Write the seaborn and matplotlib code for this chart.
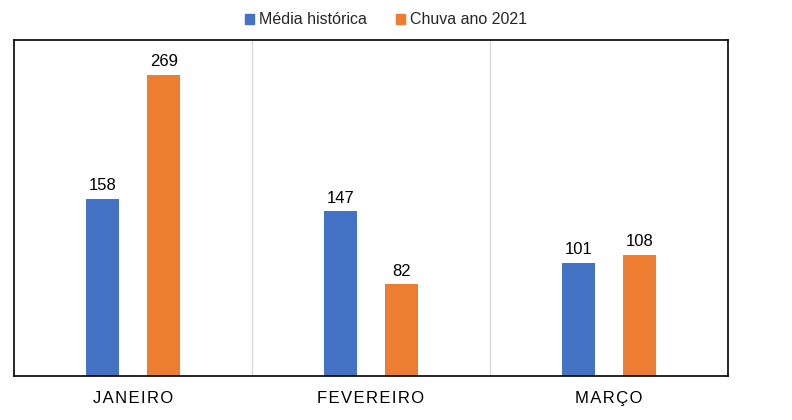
import pandas as pd
import seaborn as sns
import matplotlib.pyplot as plt

meses = ['JANEIRO', 'FEVEREIRO', 'MARÇO']
series = ['Média histórica', 'Chuva ano 2021']
media_historica = [158, 147, 101]
chuva_2021 = [269, 82, 108]
cores = ['#4472C4', '#ED7D31']

df = pd.DataFrame({
    'mes': meses * 2,
    'serie': [series[0]] * 3 + [series[1]] * 3,
    'valor': media_historica + chuva_2021,
})

sns.set_style('white')
plt.rcParams['font.family'] = ['Liberation Sans', 'DejaVu Sans']

fig = plt.figure(figsize=(7.92, 4.2), dpi=100)
ax = fig.add_axes([14 / 792, 44 / 420, 714 / 792, 336 / 420])

sns.barplot(data=df, x='mes', y='valor', hue='serie', palette=cores,
            width=0.516, gap=0.46, ax=ax, legend=False, saturation=1,
            linewidth=0)

for cont in ax.containers:
    ax.bar_label(cont, fontsize=12, padding=4, color='#000000')

ax.set_ylim(0, 300)
ax.set_xlim(-0.5, 2.5)
ax.set_yticks([])
ax.set_xlabel('')
ax.set_ylabel('')
# letras espaçadas como no original
rotulos = ['\u200a'.join(m) for m in meses]
ax.set_xticks(range(3))
ax.set_xticklabels(rotulos)
ax.tick_params(axis='x', length=0, pad=11, labelsize=12, colors='#000000')

for xg in [0.5, 1.5]:
    ax.axvline(xg, color='#D9D9D9', lw=1, zorder=0)

for s in ax.spines.values():
    s.set_visible(True)
    s.set_color('black')
    s.set_linewidth(1.2)

handles = [plt.Rectangle((0, 0), 1, 1, color=c) for c in cores]
fig.legend(handles, series, loc='center', bbox_to_anchor=(386 / 792, 1 - 20 / 420),
           ncol=2, frameon=False, fontsize=11.5, handlelength=0.6, handleheight=0.6,
           handletextpad=0.3, columnspacing=1.8)

fig.savefig('out.png', dpi=100)
